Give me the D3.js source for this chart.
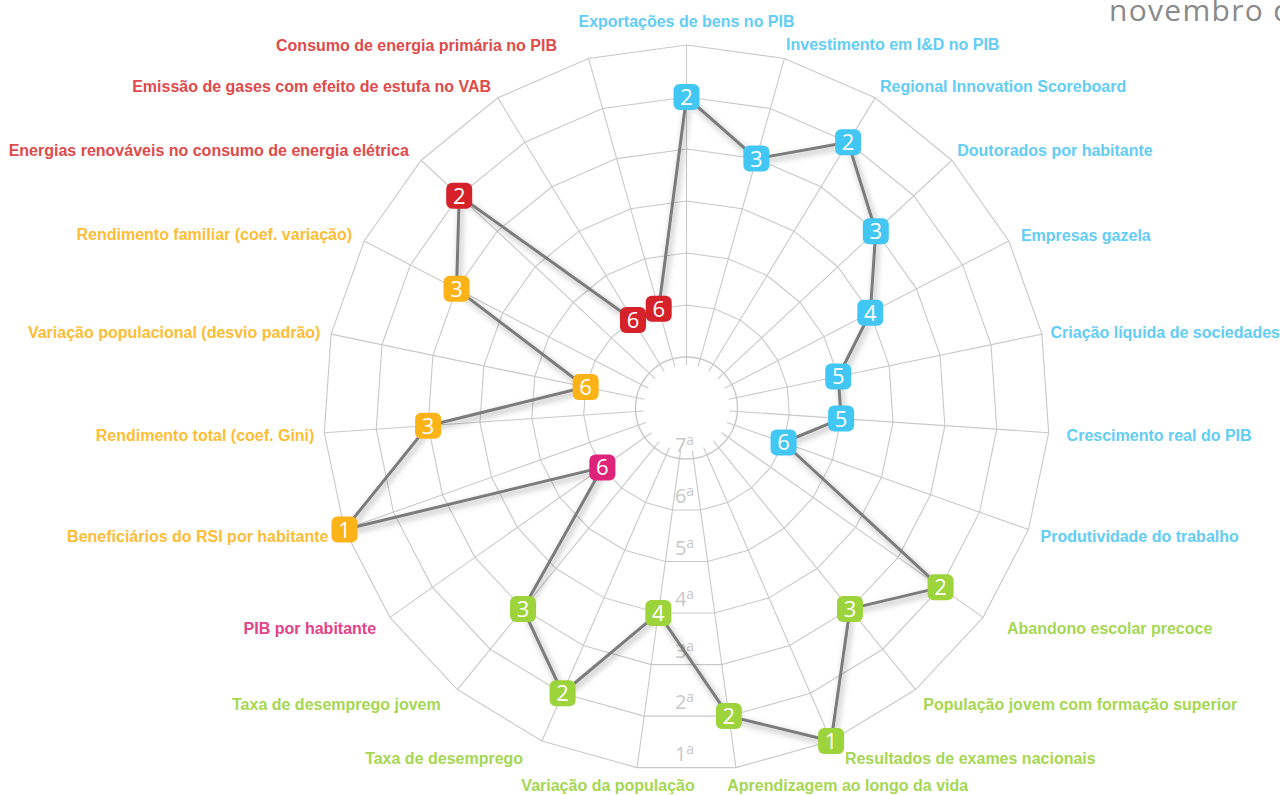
<!doctype html>
<html lang="pt">
<head>
<meta charset="utf-8">
<title>Radar de indicadores - novembro de 2016</title>
<script src="https://cdn.jsdelivr.net/npm/d3@7"></script>
<style>
  body { margin: 0; background: #fff; }
  svg { display: block; }
</style>
</head>
<body>
<div id="chart"></div>
<script>
// indicators, clockwise from the top
const indicators = [
  'Exportações de bens no PIB',
  'Investimento em I&D no PIB',
  'Regional Innovation Scoreboard',
  'Doutorados por habitante',
  'Empresas gazela',
  'Criação líquida de sociedades',
  'Crescimento real do PIB',
  'Produtividade do trabalho',
  'Abandono escolar precoce',
  'População jovem com formação superior',
  'Resultados de exames nacionais',
  'Aprendizagem ao longo da vida',
  'Variação da população',
  'Taxa de desemprego',
  'Taxa de desemprego jovem',
  'PIB por habitante',
  'Beneficiários do RSI por habitante',
  'Rendimento total (coef. Gini)',
  'Variação populacional (desvio padrão)',
  'Rendimento familiar (coef. variação)',
  'Energias renováveis no consumo de energia elétrica',
  'Emissão de gases com efeito de estufa no VAB',
  'Consumo de energia primária no PIB'
];
const groups = [
  'competitividade', 'competitividade', 'competitividade', 'competitividade',
  'competitividade', 'competitividade', 'competitividade', 'competitividade',
  'qualificacao', 'qualificacao', 'qualificacao', 'qualificacao',
  'qualificacao', 'qualificacao', 'qualificacao',
  'riqueza',
  'coesao', 'coesao', 'coesao', 'coesao',
  'ambiente', 'ambiente', 'ambiente'
];
const ranks = [2, 3, 2, 3, 4, 5, 5, 6, 2, 3, 1, 2, 4, 2, 3, 6, 1, 3, 6, 3, 2, 6, 6];
const rankLevels = [1, 2, 3, 4, 5, 6, 7];
const dateLabel = 'novembro de 2016';

const markerColor = {
  competitividade: '#42c7f4', qualificacao: '#9dd43b', riqueza: '#df2378',
  coesao: '#fbb317', ambiente: '#d5222a'
};
const labelColor = {
  competitividade: '#62cdf6', qualificacao: '#a6d752', riqueza: '#e3418a',
  coesao: '#fdbd35', ambiente: '#e04a4a'
};
// hand placement for labels that sit off the plain radial position
const labelNudge = {
  1: [-3, 1], 2: [-4, 2], 3: [-7, 0], 4: [-3, 1], 5: [-8, 0], 6: [1, 0], 7: [-4, 0],
  8: [10, 0], 9: [-3, 0], 10: [7, 0], 11: [-11, 0], 12: [60, 0], 13: [-12, 0],
  14: [-6, 0], 17: [7, 0], 18: [6, 0], 19: [3, 0], 21: [2, 2], 22: [-27, 2]
};

const W = 1280, H = 795, cx = 686.5, cy = 408;
const labelR = 380;
const n = indicators.length;
const angle = d3.scaleLinear().domain([0, n]).range([0, 2 * Math.PI]);
const radius = d3.scaleLinear().domain([7, 1]).range([51, 363]);

const svg = d3.select('#chart').append('svg')
    .attr('width', W).attr('height', H);

const defs = svg.append('defs');
const shadow = defs.append('filter').attr('id', 'shadow')
    .attr('x', '-20%').attr('y', '-20%').attr('width', '140%').attr('height', '140%');
shadow.append('feDropShadow')
    .attr('dx', 2).attr('dy', 3).attr('stdDeviation', 3)
    .attr('flood-color', '#000').attr('flood-opacity', 0.35);

const g = svg.append('g').attr('transform', `translate(${cx},${cy})`);

// grid: rings (inner one is a circle), then spokes
const ringLine = d3.lineRadial().curve(d3.curveLinearClosed);
g.append('g').selectAll('path')
  .data(rankLevels.filter(k => k < 7))
  .join('path')
    .attr('d', k => ringLine(d3.range(n).map(i => [angle(i), radius(k)])))
    .attr('fill', 'none')
    .attr('stroke', '#c9c9c9')
    .attr('stroke-width', 1.1);

g.append('circle')
    .attr('r', radius(7))
    .attr('fill', 'none')
    .attr('stroke', '#c9c9c9')
    .attr('stroke-width', 1.4);

g.append('g').selectAll('line')
  .data(d3.range(n))
  .join('line')
    .attr('x1', i => 43 * Math.sin(angle(i)))
    .attr('y1', i => -43 * Math.cos(angle(i)))
    .attr('x2', i => radius(1) * Math.sin(angle(i)))
    .attr('y2', i => -radius(1) * Math.cos(angle(i)))
    .attr('stroke', '#c9c9c9')
    .attr('stroke-width', 1.1);

// rank labels down the bottom gap
const rankText = g.append('g').selectAll('text')
  .data(rankLevels)
  .join('text')
    .attr('x', -2)
    .attr('y', k => radius(k) * (k === 7 ? 1 : Math.cos(Math.PI / n)) - 7)
    .attr('text-anchor', 'middle')
    .style('font-family', '"Open Sans", sans-serif')
    .style('font-size', '20px')
    .style('fill', '#c8c8c8');
rankText.append('tspan').text(k => k);
rankText.append('tspan')
    .attr('dy', -7)
    .style('font-size', '14px')
    .text('a');

// axis labels
const nudge = (i, k) => labelNudge[i] ? labelNudge[i][k] : 0;
g.append('g').selectAll('text')
  .data(d3.range(n))
  .join('text')
    .attr('x', i => labelR * Math.sin(angle(i)) + nudge(i, 0))
    .attr('y', i => -labelR * Math.cos(angle(i)) + nudge(i, 1) + (i === 0 ? -1 : 7))
    .attr('text-anchor', i => i === 0 ? 'middle' : (Math.sin(angle(i)) > 0 ? 'start' : 'end'))
    .style('font-family', '"Liberation Sans", Arial, sans-serif')
    .style('font-weight', 'bold')
    .style('font-size', '16px')
    .style('fill', i => labelColor[groups[i]])
    .text(i => indicators[i]);

// profile line
g.append('path')
    .datum(ranks)
    .attr('d', d3.lineRadial()
        .angle((d, i) => angle(i))
        .radius(d => radius(d))
        .curve(d3.curveLinearClosed))
    .attr('fill', 'none')
    .attr('stroke', '#7b7b7b')
    .attr('stroke-width', 3)
    .attr('stroke-linejoin', 'round')
    .attr('filter', 'url(#shadow)');

// rank markers
const marker = g.append('g').selectAll('g')
  .data(ranks)
  .join('g')
    .attr('transform', (d, i) =>
      `translate(${radius(d) * Math.sin(angle(i))},${-radius(d) * Math.cos(angle(i))})`);
marker.append('rect')
    .attr('x', -13).attr('y', -13)
    .attr('width', 26).attr('height', 26)
    .attr('rx', 6)
    .attr('fill', (d, i) => markerColor[groups[i]]);
marker.append('text')
    .attr('text-anchor', 'middle')
    .attr('dy', 8)
    .style('font-family', '"Open Sans", sans-serif')
    .style('font-size', '22px')
    .style('fill', '#fff')
    .text(d => d);

// date, running off the right edge
svg.append('text')
    .attr('x', 1109).attr('y', 21)
    .style('font-family', '"Open Sans", sans-serif')
    .style('font-size', '30px')
    .style('letter-spacing', '1.3px')
    .style('fill', '#8a8a8a')
    .text(dateLabel);
</script>
</body>
</html>
